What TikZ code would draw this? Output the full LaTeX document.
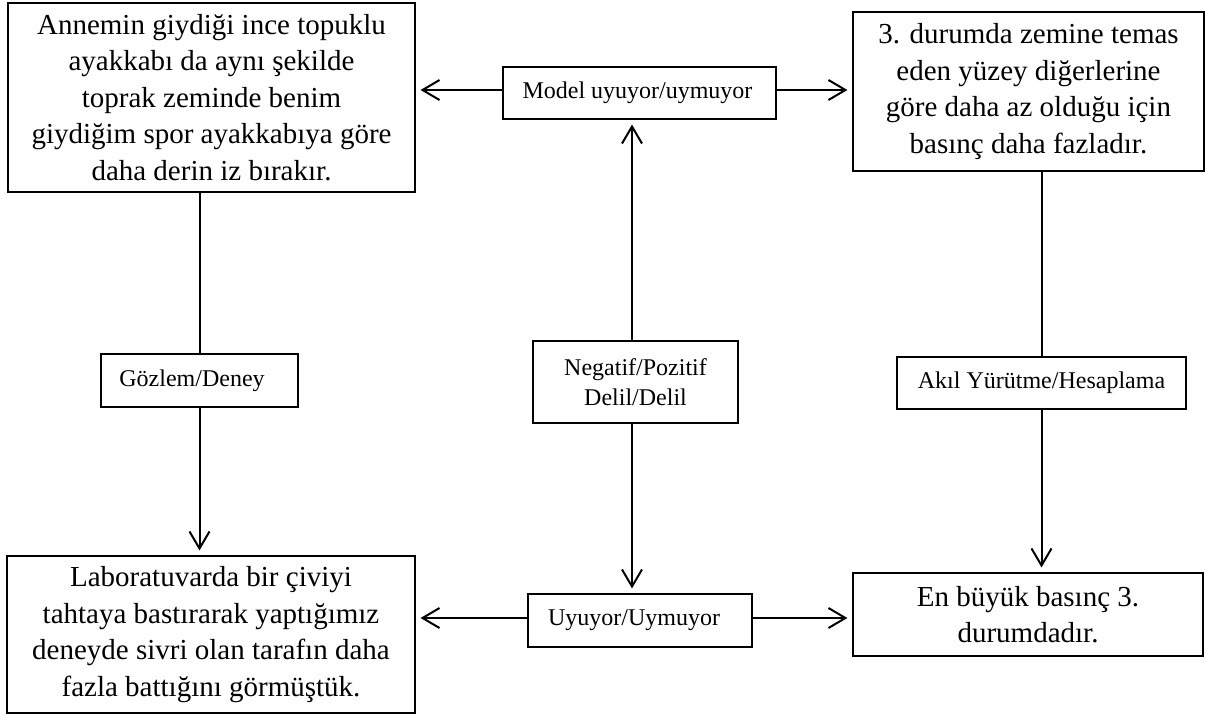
\documentclass[tikz,border=0pt]{standalone}
\usepackage{fontspec}
\setmainfont{Liberation Serif}
\usetikzlibrary{arrows.meta}

\tikzset{
  bigbox/.style={draw=black, line width=1.1pt, inner sep=0pt, align=center,
    font=\fontsize{29}{36.5}\selectfont},
  smallbox/.style={draw=black, line width=1.1pt, inner sep=0pt, align=center,
    font=\fontsize{24}{30}\selectfont},
  link/.style={line width=2pt},
  arr/.style={link, -{Straight Barb[length=17pt,width=20pt]}, shorten >=5pt},
}

\begin{document}
\begin{tikzpicture}[x=1pt, y=-1pt]
\useasboundingbox (0,0) rectangle (1205,715);

% claims and observations
\node[bigbox, minimum width=407pt, minimum height=189pt] (tl) at (211.5,97.5)
  {Annemin giydiği ince topuklu\\ayakkabı da aynı şekilde\\toprak zeminde benim\\giydiğim spor ayakkabıya göre\\daha derin iz bırakır.};
\node[bigbox, minimum width=351pt, minimum height=159pt] (tr) at (1028.5,91.5)
  {3. durumda zemine temas\\eden yüzey diğerlerine\\göre daha az olduğu için\\basınç daha fazladır.};
\node[bigbox, minimum width=408pt, minimum height=157pt] (bl) at (211,634.5)
  {Laboratuvarda bir çiviyi\\tahtaya bastırarak yaptığımız\\deneyde sivri olan tarafın daha\\fazla battığını görmüştük.};
\node[bigbox, minimum width=350pt, minimum height=83pt] (br) at (1028,614.5)
  {En büyük basınç 3.\\durumdadır.};

% labels on the links
\node[smallbox, minimum width=273pt, minimum height=52pt] (model) at (639.5,93)
  {\hspace*{-4pt}Model uyuyor/uymuyor};
\node[smallbox, minimum width=224pt, minimum height=53pt] (uy) at (640,620.5)
  {\hspace*{-12pt}Uyuyor/Uymuyor};
\node[smallbox, minimum width=197pt, minimum height=53pt] (gz) at (199.5,380.5)
  {\hspace*{-15pt}Gözlem/Deney};
\node[smallbox, minimum width=205pt, minimum height=82pt] (neg) at (635.5,382)
  {Negatif/Pozitif\\Delil/Delil};
\node[smallbox, minimum width=289pt, minimum height=52pt] (ak) at (1041.5,383)
  {Akıl Yürütme/Hesaplama};

% connectors
\coordinate (mw) at ([yshift=3pt]model.west);
\coordinate (me) at ([yshift=3pt]model.east);
\coordinate (uw) at ([yshift=2.5pt]uy.west);
\coordinate (ue) at ([yshift=2.5pt]uy.east);
\coordinate (nn) at ([xshift=-3.5pt]neg.north);
\coordinate (ns) at ([xshift=-3.5pt]neg.south);

\draw[arr] (mw) -- (mw -| tl.east);
\draw[arr] (me) -- (me -| tr.west);
\draw[arr] (uw) -- (uw -| bl.east);
\draw[arr] (ue) -- (ue -| br.west);

\draw[link] (tl.south -| gz.north) -- (gz.north);
\draw[arr] (gz.south) -- (gz.south |- bl.north);

\draw[arr] (nn) -- (nn |- model.south);
\draw[arr] (ns) -- (ns |- uy.north);

\draw[link] (tr.south -| ak.north) -- (ak.north);
\draw[arr] (ak.south) -- (ak.south |- br.north);
\end{tikzpicture}
\end{document}
